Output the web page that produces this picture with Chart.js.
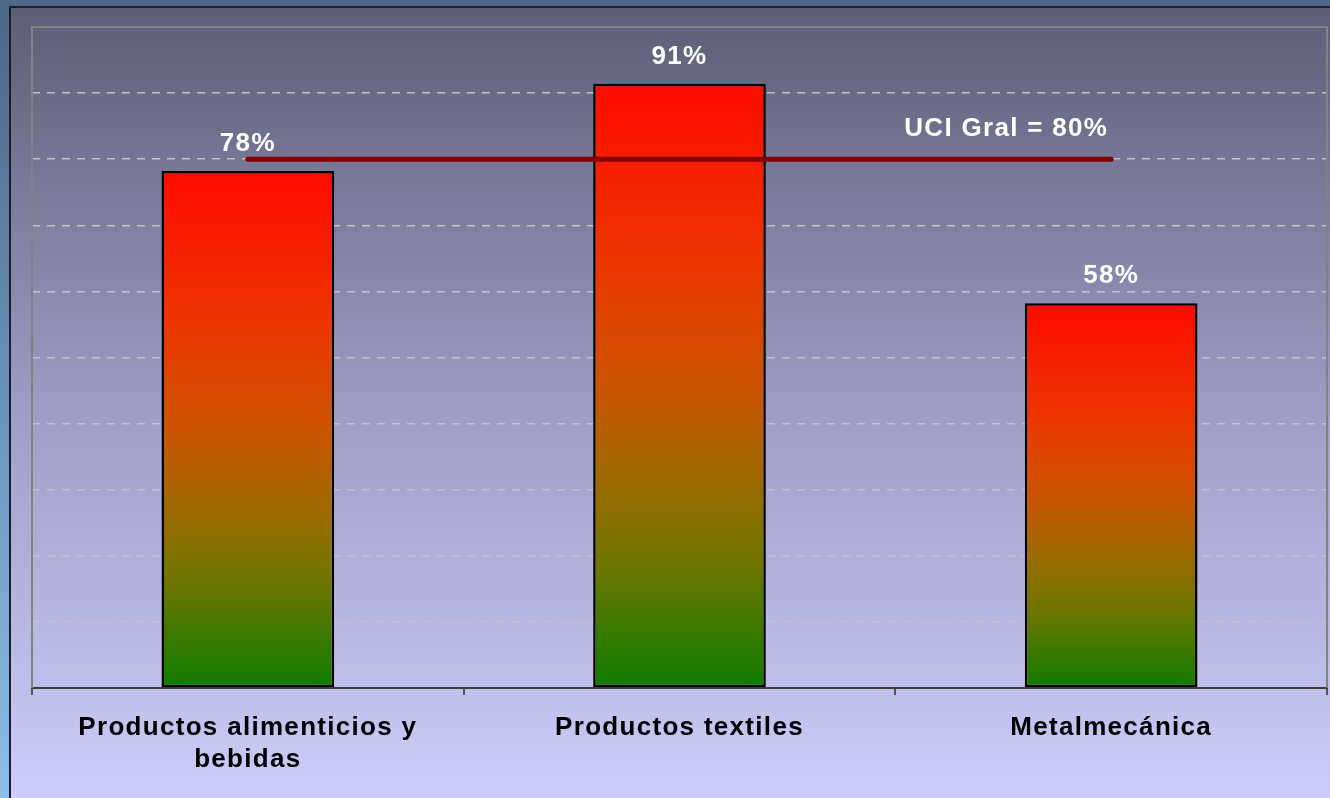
<!DOCTYPE html>
<html>
<head>
<meta charset="utf-8">
<script src="https://cdn.jsdelivr.net/npm/chart.js@4"></script>
<style>
  html, body { margin: 0; padding: 0; background: #4a6785; }
  canvas { display: block; }
</style>
</head>
<body>
<canvas id="uci" width="1330" height="798"></canvas>
<script>
const sectors = [['Productos alimenticios y', 'bebidas'], 'Productos textiles', 'Metalmecánica'];
const utilization = [78.2, 91.4, 58.2];
const generalUci = [80, 80, 80];
const generalLabel = 'UCI Gral = 80%';

const FONT = '"Liberation Sans", Arial, sans-serif';

function barGradient(context) {
  const chart = context.chart;
  const y = chart.scales.y;
  if (!chart.chartArea || !y) return '#ff1000';
  const top = y.getPixelForValue(context.raw);
  const bottom = y.getPixelForValue(0);
  const g = chart.ctx.createLinearGradient(0, top, 0, bottom);
  g.addColorStop(0, '#ff0a00');
  g.addColorStop(0.3, '#ec3600');
  g.addColorStop(0.5, '#cc5400');
  g.addColorStop(0.65, '#a06a00');
  g.addColorStop(0.8, '#6c7600');
  g.addColorStop(1, '#0e7c00');
  return g;
}

// slide background + framed chart box
const backdrop = {
  id: 'backdrop',
  beforeDraw(chart) {
    const { ctx, width, height } = chart;
    ctx.save();
    const side = ctx.createLinearGradient(0, 0, 0, height);
    side.addColorStop(0, '#4a6785');
    side.addColorStop(1, '#8cbdec');
    ctx.fillStyle = side;
    ctx.fillRect(0, 0, width, height);
    ctx.fillStyle = '#4a6785';
    ctx.fillRect(0, 0, width, 7);
    const box = ctx.createLinearGradient(0, 7, 0, height);
    box.addColorStop(0, '#5d5d76');
    box.addColorStop(0.5, '#9c9cc4');
    box.addColorStop(1, '#cdcdfb');
    ctx.fillStyle = box;
    ctx.fillRect(10, 7, width - 10, height - 7);
    ctx.strokeStyle = '#1e1e28';
    ctx.lineWidth = 2;
    ctx.beginPath();
    ctx.moveTo(10, height);
    ctx.lineTo(10, 7);
    ctx.lineTo(width, 7);
    ctx.stroke();
    ctx.restore();
    // the slide text is spaced out a little
    ctx.letterSpacing = '1.3px';
  }
};

const plotFrame = {
  id: 'plotFrame',
  beforeDatasetsDraw(chart) {
    const { ctx, chartArea: a } = chart;
    ctx.save();
    ctx.strokeStyle = '#828282';
    ctx.lineWidth = 2;
    ctx.beginPath();
    ctx.moveTo(a.left, a.bottom);
    ctx.lineTo(a.left, a.top);
    ctx.lineTo(a.right, a.top);
    ctx.lineTo(a.right, a.bottom);
    ctx.stroke();
    ctx.restore();
  }
};

const valueLabels = {
  id: 'valueLabels',
  afterDatasetsDraw(chart) {
    const { ctx } = chart;
    ctx.save();
    ctx.fillStyle = '#ffffff';
    ctx.font = 'bold 26px ' + FONT;
    ctx.textAlign = 'center';
    ctx.textBaseline = 'middle';
    chart.getDatasetMeta(0).data.forEach((bar, i) => {
      ctx.fillText(Math.round(utilization[i]) + '%', bar.x, bar.y - 27);
    });
    const pts = chart.getDatasetMeta(1).data;
    const last = pts[pts.length - 1];
    ctx.textAlign = 'right';
    ctx.fillText(generalLabel, last.x - 3, last.y - 30);
    ctx.restore();
  }
};

new Chart(document.querySelector('#uci').getContext('2d'), {
  data: {
    labels: sectors,
    datasets: [{
      type: 'bar',
      data: utilization,
      backgroundColor: barGradient,
      borderColor: '#000000',
      borderWidth: 2.5,
      borderSkipped: false,
      barPercentage: 0.4,
      categoryPercentage: 1,
      order: 1
    }, {
      type: 'line',
      data: generalUci,
      borderColor: '#850000',
      borderWidth: 5,
      borderCapStyle: 'round',
      pointRadius: 0,
      fill: false,
      order: 0
    }]
  },
  options: {
    responsive: false,
    animation: false,
    layout: { padding: { top: 27, right: 3, left: 0, bottom: 0 } },
    plugins: {
      legend: { display: false },
      tooltip: { enabled: false }
    },
    scales: {
      x: {
        afterFit: s => { s.height = 110; },
        grid: { drawOnChartArea: false, drawTicks: true, tickLength: 7, color: '#555555', lineWidth: 2 },
        border: { color: '#3c3c3c', width: 2 },
        ticks: {
          color: '#000000',
          padding: 17,
          maxRotation: 0,
          autoSkip: false,
          font: { family: FONT, size: 26, weight: 'bold', lineHeight: 1.23 }
        }
      },
      y: {
        min: 0,
        max: 100,
        afterFit: s => { s.width = 32; },
        ticks: { display: false, stepSize: 10 },
        border: { display: false, dash: [8, 7] },
        grid: { color: '#c2c2cc', lineWidth: 1.5, drawTicks: false }
      }
    }
  },
  plugins: [backdrop, plotFrame, valueLabels]
});
</script>
</body>
</html>
